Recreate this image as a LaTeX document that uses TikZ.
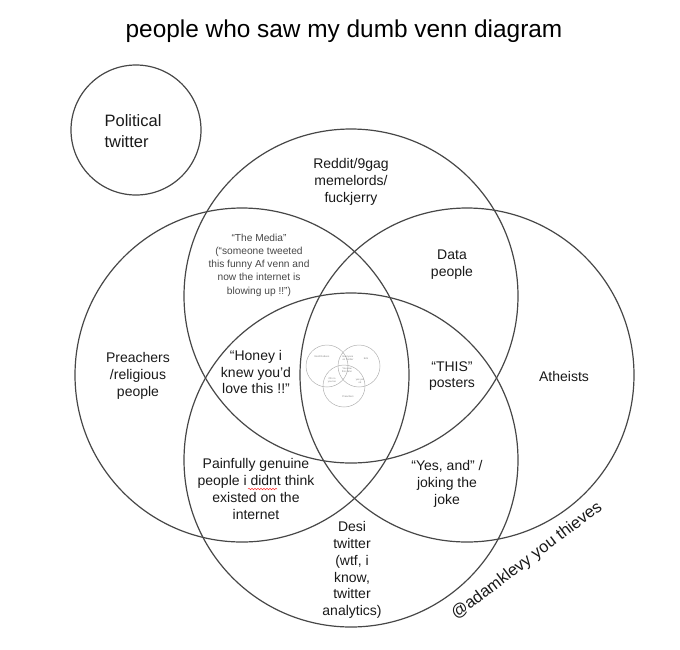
\documentclass[tikz,border=0pt]{standalone}
\usepackage{fontspec}
\setmainfont{Liberation Sans}
\usepackage{tikz}
\usetikzlibrary{positioning, decorations.pathmorphing}

\begin{document}
\begin{tikzpicture}[
    x=1pt, y=-1pt,
    venn/.style={draw=black!72, line width=1.2pt, circle, inner sep=0pt, minimum size=334pt},
    minivenn/.style={draw=black!30, line width=0.5pt, circle, inner sep=0pt, minimum size=42pt},
    lbl/.style={align=center, inner sep=0pt, text=black!90, font=\fontsize{14}{16.8}\selectfont},
    smalllbl/.style={align=center, inner sep=0pt, text=black!72, font=\fontsize{10.2}{13.2}\selectfont},
    tinylbl/.style={align=center, inner sep=0pt, text=black!50, font=\fontsize{2.5}{3}\selectfont}
]
\useasboundingbox (0,0) rectangle (680,649);

% Titel
\node[inner sep=0pt, font=\fontsize{24.4}{28}\selectfont] (title) at (344,31) {people who saw my dumb venn diagram};

% Kreise
\node[venn, minimum size=130pt] (political) at (136,130) {};
\node[venn] (reddit) at (351,296) {};
\node[venn] (preachers) at (242,375) {};
\node[venn] (atheists) at (467,375) {};
\node[venn] (desi) at (351,460) {};

% kleines Diagramm in der Mitte
\node[minivenn] (mleft) at (327,366) {};
\node[minivenn] (mright) at (359,366) {};
\node[minivenn] (mbottom) at (344,386) {};
\node[tinylbl] (mleftlbl) at (322,357) {Nerd Rodeos};
\node[tinylbl] (mtoplbl) at (348,358) {Everyone\\on Twitter};
\node[tinylbl] (mrightlbl) at (366,359) {Erik};
\node[tinylbl] (mcenterlbl) at (347,370) {You saw\\this venn};
\node[tinylbl] (mlowleftlbl) at (332,380) {Oh no\\you too};
\node[tinylbl] (mlowrightlbl) at (360,381) {yes yes\\ok};
\node[tinylbl] (mbottomlbl) at (348,397) {Preachers};

% Beschriftungen
\node[lbl, align=left, font=\fontsize{16.5}{21}\selectfont] (politicallbl) at (133,131) {Political\\twitter};
\node[lbl] (redditlbl) at (351,182) {Reddit/9gag\\memelords/\\fuckjerry};
\node[smalllbl] (medialbl) at (259,265) {``The Media''\\(``someone tweeted\\this funny Af venn and\\now the internet is\\blowing up !!'')};
\node[lbl] (datalbl) at (452,265) {Data\\people};
\node[lbl] (preacherslbl) at (138,376) {Preachers\\/religious\\people};
\node[lbl] (honeylbl) at (256,372) {``Honey i\\knew you'd\\love this !!''};
\node[lbl] (thislbl) at (452,376) {``THIS''\\posters};
\node[lbl] (atheistslbl) at (564,376) {Atheists};
\node[lbl] (genuinelbl) at (256,489) {Painfully genuine\\people i didnt think\\existed on the\\internet};
\node[lbl] (yesandlbl) at (447,484) {``Yes, and'' /\\joking the\\joke};
\node[lbl] (desilbl) at (352,570) {Desi\\twitter\\(wtf, i\\know,\\twitter\\analytics)};
\node[lbl, rotate=37, font=\fontsize{16.5}{20}\selectfont] (creditlbl) at (527,561) {@adamklevy you thieves};

% Rechtschreib-Schlangenlinie
\draw[red!80, line width=0.5pt, decorate, decoration={snake, amplitude=0.8pt, segment length=3pt}] (248,489) -- (277,489);

\end{tikzpicture}
\end{document}
